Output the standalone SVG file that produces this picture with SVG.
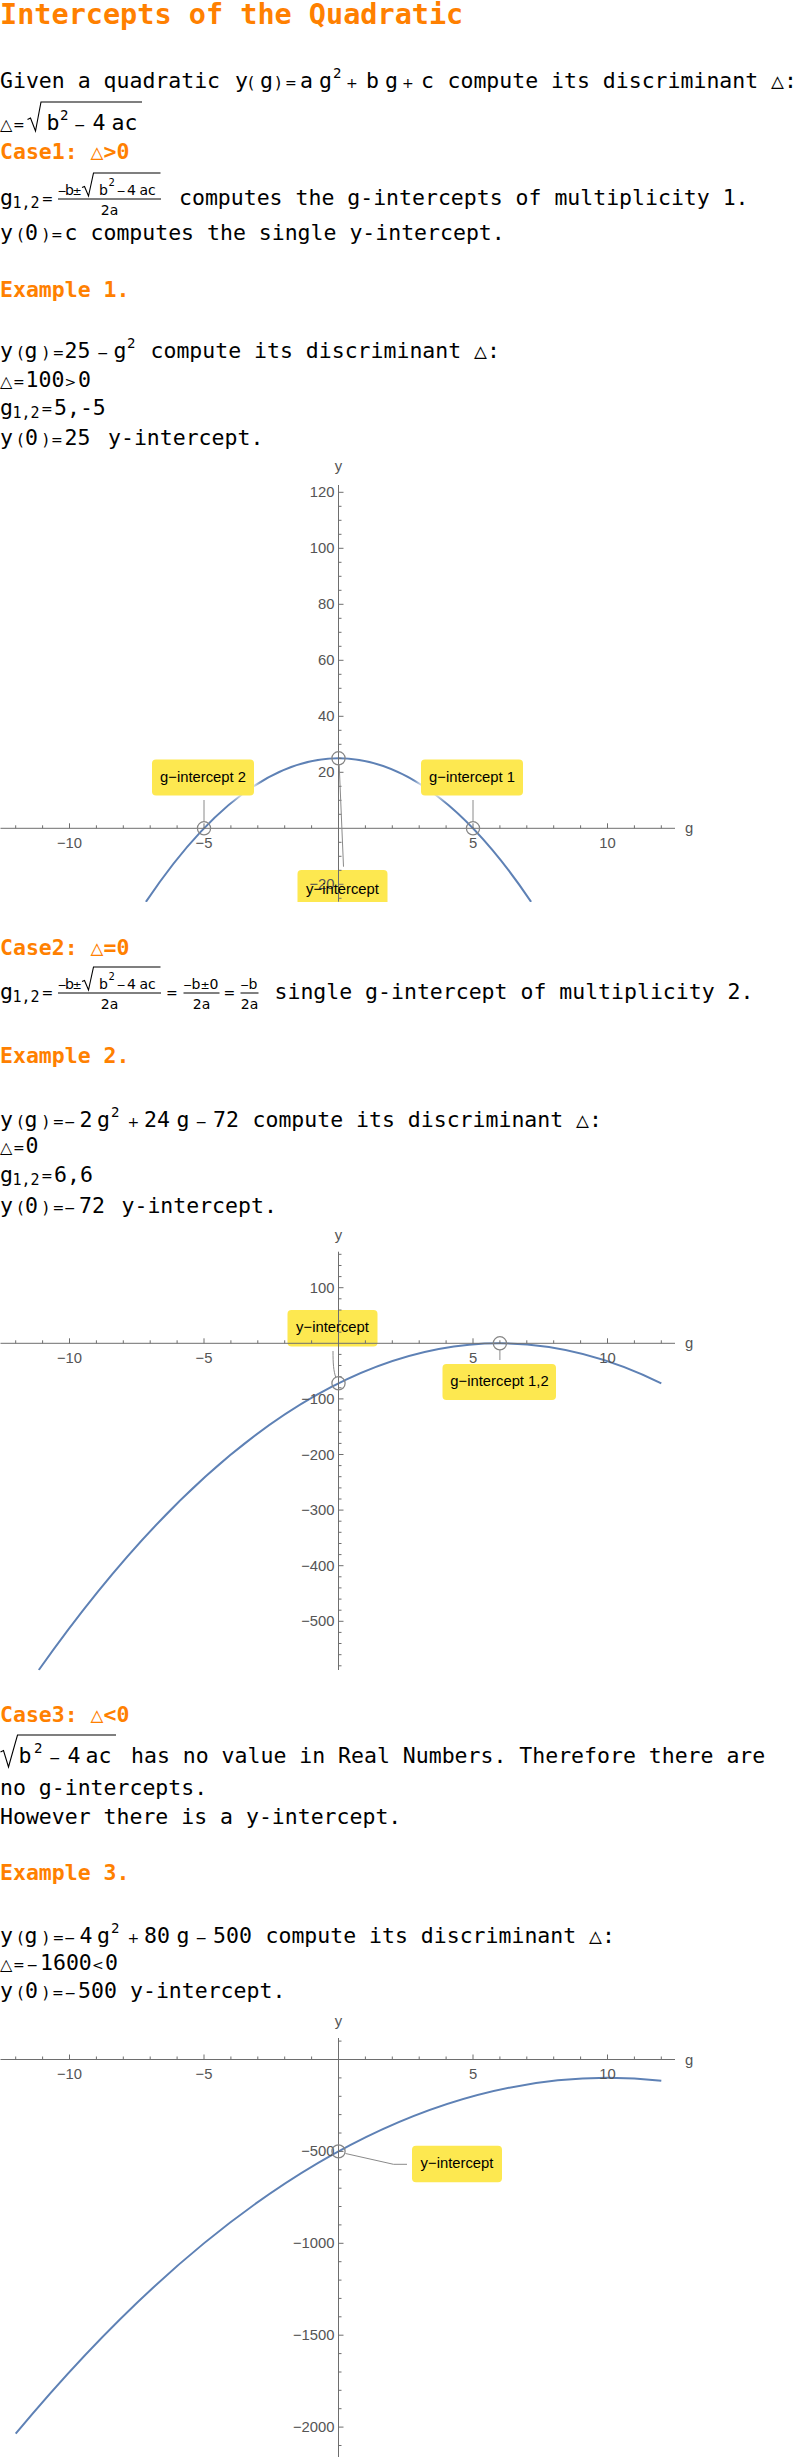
<svg xmlns="http://www.w3.org/2000/svg" width="796" height="2457" viewBox="0 0 796 2457">
<style>
.m{font-family:"DejaVu Sans Mono",monospace;font-size:21.5px;fill:#000}
.hd{font-family:"DejaVu Sans Mono",monospace;font-size:21.5px;font-weight:bold;fill:#FF8000}
.ttl{font-family:"DejaVu Sans Mono",monospace;font-size:28.5px;font-weight:bold;fill:#FF8000}
.op{font-family:"DejaVu Sans",sans-serif;font-size:14px}
.pr{font-family:"DejaVu Sans",sans-serif;font-size:16px}
.sp{font-family:"DejaVu Sans Mono",monospace;font-size:14px}
.sb{font-family:"DejaVu Sans Mono",monospace;font-size:15px}
.fr{font-family:"DejaVu Sans",sans-serif;font-size:14px;fill:#000}
.fo{font-family:"DejaVu Sans",sans-serif;font-size:11px}
.frs{font-family:"DejaVu Sans",sans-serif;font-size:10px}
.frc{font-family:"DejaVu Sans",sans-serif;font-size:14px;fill:#000;text-anchor:middle}
.tri{font-family:"DejaVu Sans",sans-serif;font-size:16px}
.tk{font-family:"Liberation Sans",Arial,sans-serif;font-size:14.8px;fill:#555}
.tkr{font-family:"Liberation Sans",Arial,sans-serif;font-size:14.8px;fill:#555;text-anchor:end}
.tkc{font-family:"Liberation Sans",Arial,sans-serif;font-size:14.8px;fill:#555;text-anchor:middle}
.cl{font-family:"Liberation Sans",Arial,sans-serif;font-size:14.8px;fill:#000;text-anchor:middle}
.box{fill:#FDE850}
.halo{fill:#fff;opacity:0.85}
.ax{stroke:#6e6e6e;stroke-width:1;fill:none}
.cv{stroke:#5E81B5;stroke-width:2;fill:none}
.mk{stroke:#858585;stroke-width:1.25;fill:none}
.ld{stroke:#8a8a8a;stroke-width:1;fill:none}
.rad{stroke:#000;stroke-width:1.1;fill:none}
.bar{stroke:#000;stroke-width:1;fill:none}
</style>
<defs>
<filter id="blur" x="-20%" y="-40%" width="140%" height="180%"><feGaussianBlur stdDeviation="3"/></filter>
<path id="xticks" class="ax" d="M0.5,0H675M15.7,0v-3M42.6,0v-3M69.5,0v-5M96.4,0v-3M123.3,0v-3M150.2,0v-3M177.1,0v-3M204,0v-5M230.9,0v-3M257.8,0v-3M284.7,0v-3M311.6,0v-3M365.4,0v-3M392.3,0v-3M419.2,0v-3M446.1,0v-3M473,0v-5M499.9,0v-3M526.8,0v-3M553.7,0v-3M580.6,0v-3M607.5,0v-5M634.4,0v-3M661.3,0v-3"/>
<g id="xlabels">
<text class="tkc" x="69.5" y="19.5">−10</text>
<text class="tkc" x="204" y="19.5">−5</text>
<text class="tkc" x="473" y="19.5">5</text>
<text class="tkc" x="607.5" y="19.5">10</text>
<text class="tk" x="685" y="5">g</text>
</g>
<clipPath id="c1"><rect x="0" y="483" width="796" height="419"/></clipPath>
<clipPath id="c2"><rect x="0" y="1250" width="796" height="420.5"/></clipPath>
</defs>

<g id="intro">
<text class="ttl" x="0" y="24">Intercepts of the Quadratic</text>
<text class="m" y="88"><tspan x="0">Given a quadratic</tspan><tspan x="235">y</tspan><tspan class="pr" x="247.9">(</tspan><tspan x="260">g</tspan><tspan class="pr" x="274.9">)</tspan><tspan class="op" x="285.1">=</tspan><tspan x="300">a</tspan><tspan x="319">g</tspan><tspan class="sp" x="333" y="78">2</tspan><tspan class="op" x="346.1" y="88">+</tspan><tspan x="366">b</tspan><tspan x="385">g</tspan><tspan class="op" x="402.1">+</tspan><tspan x="421">c</tspan><tspan x="447.5">compute its discriminant △:</tspan></text>
<text class="m" y="130"><tspan class="tri" x="0">△</tspan><tspan class="op" x="13.1">=</tspan><tspan x="46.5">b</tspan><tspan class="sp" x="60" y="120">2</tspan><tspan class="op" x="74.1" y="130">−</tspan><tspan x="92.5">4</tspan><tspan x="111.5">ac</tspan></text>
<path class="rad" d="M27.5,119.5L30.5,118L35.5,131L41,102H142"/>
</g>

<g id="case1">
<text class="hd" x="0" y="159">Case1: △&gt;0</text>
<text class="m" y="204.5"><tspan x="0">g</tspan><tspan class="sb" x="12.5" y="207.5">1,2</tspan><tspan class="op" x="41.6" y="203.5">=</tspan><tspan x="179" y="204.5">computes the g-intercepts of multiplicity 1.</tspan></text>
<text class="fr" y="194.5"><tspan class="fo" x="57.5">−</tspan><tspan x="65">b</tspan><tspan class="fo" x="72.5">±</tspan><tspan x="99">b</tspan><tspan class="frs" x="108.5" y="186">2</tspan><tspan class="fo" x="116.5" y="194.5">−</tspan><tspan x="127">4</tspan><tspan x="139.5">ac</tspan></text>
<path class="rad" d="M82,187.5L84.5,186.5L88.5,196L93.5,173H160.5"/>
<path class="bar" d="M58,199H161"/>
<text class="frc" x="109.5" y="214.5">2a</text>
<text class="m" y="240"><tspan x="0">y</tspan><tspan class="pr" x="17.4">(</tspan><tspan x="25">0</tspan><tspan class="pr" x="42.4">)</tspan><tspan class="op" x="51.1">=</tspan><tspan x="64.5">c</tspan><tspan x="90.5">computes the single y-intercept.</tspan></text>
</g>

<g id="example1">
<text class="hd" x="0" y="297">Example 1.</text>
<text class="m" y="358"><tspan x="0">y</tspan><tspan class="pr" x="17.4">(</tspan><tspan x="24.5">g</tspan><tspan class="pr" x="42.4">)</tspan><tspan class="op" x="52.6">=</tspan><tspan x="64.5">25</tspan><tspan class="op" x="97.1">−</tspan><tspan x="113.5">g</tspan><tspan class="sp" x="127" y="348">2</tspan><tspan x="150.5" y="358">compute its discriminant △:</tspan></text>
<text class="m" y="387"><tspan class="tri" x="0">△</tspan><tspan class="op" x="13.1">=</tspan><tspan x="25.5">100</tspan><tspan class="op" x="64.6">&gt;</tspan><tspan x="78">0</tspan></text>
<text class="m" y="415"><tspan x="0">g</tspan><tspan class="sb" x="12.5" y="418">1,2</tspan><tspan class="op" x="41.1" y="414">=</tspan><tspan x="54" y="415">5,-5</tspan></text>
<text class="m" y="445"><tspan x="0">y</tspan><tspan class="pr" x="17.4">(</tspan><tspan x="25">0</tspan><tspan class="pr" x="42.4">)</tspan><tspan class="op" x="51.1">=</tspan><tspan x="64.5">25</tspan><tspan x="108">y-intercept.</tspan></text>
</g>

<g id="plot1">
<path class="cv" clip-path="url(#c1)" d="M145.9,901.9Q338.5,614.7 531.1,901.9"/>
<g id="p1-boxes">
<rect class="halo" filter="url(#blur)" x="149" y="756.5" width="108" height="42" rx="4"/>
<rect class="halo" filter="url(#blur)" x="418" y="756.5" width="108" height="42" rx="4"/>
<rect class="box" x="152" y="759.5" width="102" height="36" rx="4"/>
<rect class="box" x="421" y="759.5" width="102" height="36" rx="4"/>
<rect class="box" clip-path="url(#c1)" x="297.5" y="870" width="90" height="40" rx="4"/>
</g>
<use href="#xticks" y="828.3"/>
<use href="#xlabels" y="828.3"/>
<path class="ax" d="M338.5,485V901.7M338.5,898.3h3M338.5,870.3h3M338.5,856.3h3M338.5,842.3h3M338.5,814.3h3M338.5,800.3h3M338.5,786.3h3M338.5,758.3h3M338.5,744.3h3M338.5,730.3h3M338.5,702.3h3M338.5,688.3h3M338.5,674.3h3M338.5,646.3h3M338.5,632.3h3M338.5,618.3h3M338.5,590.3h3M338.5,576.3h3M338.5,562.3h3M338.5,534.3h3M338.5,520.3h3M338.5,506.3h3M338.5,884.3h5M338.5,772.3h5M338.5,716.3h5M338.5,660.3h5M338.5,604.3h5M338.5,548.3h5M338.5,492.3h5"/>
<text class="tkr" x="334.5" y="889.3">−20</text>
<text class="tkr" x="334.5" y="777.3">20</text>
<text class="tkr" x="334.5" y="721.3">40</text>
<text class="tkr" x="334.5" y="665.3">60</text>
<text class="tkr" x="334.5" y="609.3">80</text>
<text class="tkr" x="334.5" y="553.3">100</text>
<text class="tkr" x="334.5" y="497.3">120</text>
<text class="tkc" x="338.5" y="471">y</text>
<circle class="mk" cx="204" cy="828.3" r="6.6"/>
<circle class="mk" cx="473" cy="828.3" r="6.6"/>
<circle class="mk" cx="338.5" cy="758.3" r="6.6"/>
<g id="p1-label-g2"><text class="cl" x="203" y="782">g−intercept 2</text></g>
<g id="p1-label-g1"><text class="cl" x="472" y="782">g−intercept 1</text></g>
<g id="p1-label-y" clip-path="url(#c1)"><text class="cl" x="342.5" y="894">y−intercept</text></g>
</g>

<g id="case2">
<text class="hd" x="0" y="955">Case2: △=0</text>
<text class="m" y="998.5"><tspan x="0">g</tspan><tspan class="sb" x="12.5" y="1001.5">1,2</tspan><tspan class="op" x="41.6" y="997.5">=</tspan><tspan class="op" x="166.1">=</tspan><tspan class="op" x="223.6">=</tspan><tspan x="274.5" y="998.5">single g-intercept of multiplicity 2.</tspan></text>
<text class="fr" y="988.5"><tspan class="fo" x="57.5">−</tspan><tspan x="65">b</tspan><tspan class="fo" x="72.5">±</tspan><tspan x="99">b</tspan><tspan class="frs" x="108.5" y="980">2</tspan><tspan class="fo" x="116.5" y="988.5">−</tspan><tspan x="127">4</tspan><tspan x="139.5">ac</tspan></text>
<path class="rad" d="M82,981.5L84.5,980.5L88.5,990L93.5,967H160.5"/>
<path class="bar" d="M58,993H161M183.5,993H219.5M240.5,993H258.5"/>
<text class="frc" x="109.5" y="1008.5">2a</text>
<text class="fr" y="988.5"><tspan class="fo" x="183">−</tspan><tspan x="191.5">b</tspan><tspan class="fo" x="200.5">±</tspan><tspan x="209.5">0</tspan></text>
<text class="frc" x="201.5" y="1008.5">2a</text>
<text class="fr" y="988.5"><tspan class="fo" x="240">−</tspan><tspan x="248.5">b</tspan></text>
<text class="frc" x="249.5" y="1008.5">2a</text>
</g>

<g id="example2">
<text class="hd" x="0" y="1063">Example 2.</text>
<text class="m" y="1127"><tspan x="0">y</tspan><tspan class="pr" x="17.4">(</tspan><tspan x="24.5">g</tspan><tspan class="pr" x="42.4">)</tspan><tspan class="op" x="52.6">=</tspan><tspan class="op" x="64.1">−</tspan><tspan x="79.5">2</tspan><tspan x="97">g</tspan><tspan class="sp" x="111" y="1117">2</tspan><tspan class="op" x="127.6" y="1127">+</tspan><tspan x="144">24</tspan><tspan x="176.5">g</tspan><tspan class="op" x="195.6">−</tspan><tspan x="213">72</tspan><tspan x="252.5">compute its discriminant △:</tspan></text>
<text class="m" y="1153"><tspan class="tri" x="0">△</tspan><tspan class="op" x="13.1">=</tspan><tspan x="25.5">0</tspan></text>
<text class="m" y="1182"><tspan x="0">g</tspan><tspan class="sb" x="12.5" y="1185">1,2</tspan><tspan class="op" x="41.1" y="1181">=</tspan><tspan x="54" y="1182">6,6</tspan></text>
<text class="m" y="1213"><tspan x="0">y</tspan><tspan class="pr" x="17.4">(</tspan><tspan x="25">0</tspan><tspan class="pr" x="42.4">)</tspan><tspan class="op" x="52.6">=</tspan><tspan class="op" x="64.1">−</tspan><tspan x="79">72</tspan><tspan x="121.5">y-intercept.</tspan></text>
</g>

<g id="plot2">
<path class="cv" clip-path="url(#c2)" d="M38.8,1670Q350.1,1229 661.3,1383.3"/>
<g id="p2-boxes">
<rect class="halo" filter="url(#blur)" x="439.5" y="1361" width="119.5" height="42" rx="4"/>
<rect class="box" x="287.5" y="1310" width="90" height="36.5" rx="4"/>
<rect class="box" x="442.5" y="1364" width="113.5" height="36" rx="4"/>
</g>
<use href="#xticks" y="1343.3"/>
<use href="#xlabels" y="1343.3"/>
<path class="ax" d="M338.5,1251.7V1670M338.5,1254.3h3M338.5,1265.5h3M338.5,1276.6h3M338.5,1298.8h3M338.5,1310h3M338.5,1321.1h3M338.5,1332.2h3M338.5,1354.4h3M338.5,1365.5h3M338.5,1376.7h3M338.5,1387.8h3M338.5,1410h3M338.5,1421.1h3M338.5,1432.3h3M338.5,1443.4h3M338.5,1465.6h3M338.5,1476.7h3M338.5,1487.9h3M338.5,1499h3M338.5,1521.2h3M338.5,1532.3h3M338.5,1543.5h3M338.5,1554.6h3M338.5,1576.8h3M338.5,1587.9h3M338.5,1599.1h3M338.5,1610.2h3M338.5,1632.4h3M338.5,1643.5h3M338.5,1654.7h3M338.5,1665.8h3M338.5,1287.7h5M338.5,1398.9h5M338.5,1454.5h5M338.5,1510.1h5M338.5,1565.7h5M338.5,1621.3h5"/>
<text class="tkr" x="334.5" y="1292.7">100</text>
<text class="tkr" x="334.5" y="1403.9">−100</text>
<text class="tkr" x="334.5" y="1459.5">−200</text>
<text class="tkr" x="334.5" y="1515.1">−300</text>
<text class="tkr" x="334.5" y="1570.7">−400</text>
<text class="tkr" x="334.5" y="1626.3">−500</text>
<text class="tkc" x="338.5" y="1240">y</text>
<circle class="mk" cx="338.5" cy="1383.3" r="6.6"/>
<circle class="mk" cx="499.9" cy="1343.3" r="6.6"/>
<g id="p2-label-y"><text class="cl" x="332.5" y="1332">y−intercept</text></g>
<g id="p2-label-g"><text class="cl" x="499.5" y="1386">g−intercept 1,2</text></g>
</g>

<g id="case3">
<text class="hd" x="0" y="1722">Case3: △&lt;0</text>
<text class="m" y="1763"><tspan x="18.5">b</tspan><tspan class="sp" x="34" y="1753">2</tspan><tspan class="op" x="49.1" y="1763">−</tspan><tspan x="67.5">4</tspan><tspan x="85.5">ac</tspan><tspan x="131">has no value in Real Numbers. Therefore there are</tspan></text>
<path class="rad" d="M0.5,1752L3.5,1750.5L8.5,1767L17.5,1735H116"/>
<text class="m" x="0" y="1795">no g-intercepts.</text>
<text class="m" x="0" y="1824">However there is a y-intercept.</text>
</g>

<g id="example3">
<text class="hd" x="0" y="1880">Example 3.</text>
<text class="m" y="1943"><tspan x="0">y</tspan><tspan class="pr" x="17.4">(</tspan><tspan x="24.5">g</tspan><tspan class="pr" x="42.4">)</tspan><tspan class="op" x="52.6">=</tspan><tspan class="op" x="64.1">−</tspan><tspan x="79.5">4</tspan><tspan x="97">g</tspan><tspan class="sp" x="111" y="1933">2</tspan><tspan class="op" x="127.6" y="1943">+</tspan><tspan x="144">80</tspan><tspan x="176.5">g</tspan><tspan class="op" x="195.6">−</tspan><tspan x="213">500</tspan><tspan x="265.5">compute its discriminant △:</tspan></text>
<text class="m" y="1970"><tspan class="tri" x="0">△</tspan><tspan class="op" x="13.1">=</tspan><tspan class="op" x="26.6">−</tspan><tspan x="40">1600</tspan><tspan class="op" x="92.1">&lt;</tspan><tspan x="105">0</tspan></text>
<text class="m" y="1998"><tspan x="0">y</tspan><tspan class="pr" x="17.4">(</tspan><tspan x="25">0</tspan><tspan class="pr" x="42.4">)</tspan><tspan class="op" x="52.1">=</tspan><tspan class="op" x="64.6">−</tspan><tspan x="78">500</tspan><tspan x="130">y-intercept.</tspan></text>
</g>

<g id="plot3">
<path class="cv" d="M15.7,2433.7Q338.5,2045.5 661.3,2080.8"/>
<g id="p3-boxes">
<rect class="box" x="412" y="2145.7" width="90" height="36.6" rx="4"/>
</g>
<use href="#xticks" y="2059.5"/>
<use href="#xlabels" y="2059.5"/>
<path class="ax" d="M338.5,2038V2457M338.5,2041.1h3M338.5,2077.9h3M338.5,2096.3h3M338.5,2114.6h3M338.5,2133h3M338.5,2169.8h3M338.5,2188.2h3M338.5,2206.5h3M338.5,2224.9h3M338.5,2261.7h3M338.5,2280.1h3M338.5,2298.4h3M338.5,2316.8h3M338.5,2353.6h3M338.5,2372h3M338.5,2390.3h3M338.5,2408.7h3M338.5,2445.5h3M338.5,2151.4h5M338.5,2243.3h5M338.5,2335.2h5M338.5,2427.1h5"/>
<text class="tkr" x="334.5" y="2156.4">−500</text>
<text class="tkr" x="334.5" y="2248.3">−1000</text>
<text class="tkr" x="334.5" y="2340.2">−1500</text>
<text class="tkr" x="334.5" y="2432.1">−2000</text>
<text class="tkc" x="338.5" y="2026">y</text>
<circle class="mk" cx="338.5" cy="2151.4" r="6.6"/>
<g id="p3-label-y"><text class="cl" x="457" y="2168">y−intercept</text></g>
</g>

<g id="connectors">
<path class="ld" d="M204,800V821.5"/>
<path class="ld" d="M473,800V821.5"/>
<path class="ld" d="M339.2,765L343.5,866.7"/>
<path class="ld" d="M333,1351C333,1363 333.5,1371 335.8,1377.4"/>
<path class="ld" d="M499.9,1350V1360"/>
<path class="ld" d="M345.5,2153.5L393.5,2164.3H407"/>
</g>
</svg>
